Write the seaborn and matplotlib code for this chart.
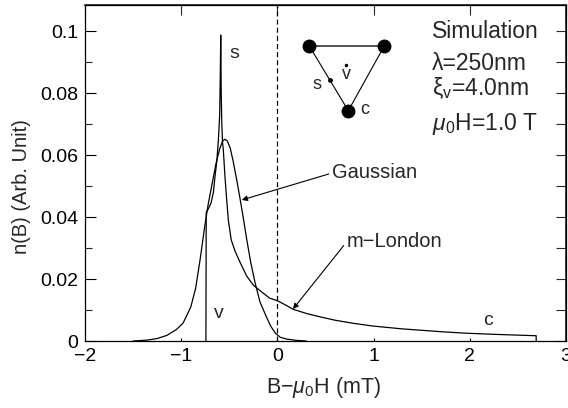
import numpy as np
import pandas as pd
import matplotlib
matplotlib.use("Agg")
import matplotlib.pyplot as plt
import seaborn as sns

# ---- data ----
gauss_x = [-1.5, -1.35, -1.25, -1.15, -1.05, -0.98, -0.9, -0.85, -0.8, -0.76, -0.72,
           -0.68, -0.64, -0.6, -0.57, -0.545, -0.52, -0.49, -0.46, -0.42, -0.39,
           -0.355, -0.32, -0.28, -0.23, -0.18, -0.12, -0.07, -0.02, 0.03, 0.1, 0.2, 0.3]
gauss_y = [0.0, 0.0003, 0.0008, 0.0018, 0.0037, 0.0058, 0.0110, 0.0170, 0.0270, 0.0360, 0.0440,
           0.0505, 0.0570, 0.0620, 0.0645, 0.0651, 0.0645, 0.0622, 0.0580, 0.0515, 0.0462,
           0.0398, 0.0330, 0.0258, 0.0185, 0.0125, 0.0082, 0.0048, 0.0025, 0.0012, 0.0006, 0.0002, 0.0]

london_x = [-0.743, -0.740, -0.72, -0.69, -0.665, -0.649, -0.63, -0.613, -0.600, -0.594,
            -0.589, -0.584, -0.578, -0.570, -0.562, -0.545, -0.527, -0.51, -0.48, -0.44,
            -0.39, -0.32, -0.25, -0.15, -0.08, 0.0, 0.08, 0.166, 0.3, 0.443, 0.6, 0.79,
            1.0, 1.135, 1.3, 1.48, 1.7, 1.97, 2.3, 2.69, 2.69]
london_y = [0.0, 0.0415, 0.0425, 0.0445, 0.0480, 0.0530, 0.0580, 0.0650, 0.0730, 0.0850,
            0.0987, 0.0800, 0.0700, 0.0640, 0.0616, 0.0530, 0.0455, 0.0390, 0.0326, 0.0290,
            0.0255, 0.0210, 0.0180, 0.0155, 0.0138, 0.0130, 0.0117, 0.0102, 0.0089, 0.0078, 0.0067, 0.0057,
            0.0048, 0.0044, 0.0039, 0.0035, 0.0030, 0.0025, 0.0021, 0.0017, 0.0]

x_ticks = [-2, -1, 0, 1, 2, 3]
x_tick_labels = ["\u22122", "\u22121", "0", "1", "2", "3"]
y_ticks = [0, 0.02, 0.04, 0.06, 0.08, 0.1]
y_tick_labels = ["0", "0.02", "0.04", "0.06", "0.08", "0.1"]
y_minor = [0.01, 0.03, 0.05, 0.07, 0.09]
y_right = [0, 0.01, 0.02, 0.03, 0.04, 0.05, 0.06, 0.07, 0.08, 0.09, 0.1]

sns.set_theme(style="ticks")
plt.rcParams["font.family"] = ["Liberation Sans", "DejaVu Sans"]
plt.rcParams["mathtext.fontset"] = "custom"
plt.rcParams["mathtext.rm"] = "Liberation Sans"
plt.rcParams["mathtext.it"] = "Liberation Sans:italic"
plt.rcParams["mathtext.bf"] = "Liberation Sans:bold"

fig = plt.figure(figsize=(5.68, 4.08), dpi=100)
ax = fig.add_axes([85/568, 1-341/408, 481/568, 336/408])

df_g = pd.DataFrame({"x": gauss_x, "y": gauss_y})
df_l = pd.DataFrame({"x": london_x, "y": london_y})
sns.lineplot(data=df_g, x="x", y="y", ax=ax, color="black", lw=0.9,
             sort=False, estimator=None)
sns.lineplot(data=df_l, x="x", y="y", ax=ax, color="black", lw=0.9,
             sort=False, estimator=None)
ax.axvline(0, color="black", lw=0.9, linestyle=(0, (4, 2.5)))

ax.set_xlim(-2, 3)
ax.set_ylim(0, 0.1084)
ax.set_xticks(x_ticks)
ax.set_xticklabels(x_tick_labels)
ax.set_yticks(y_ticks)
ax.set_yticklabels(y_tick_labels)
ax.set_yticks(y_minor, minor=True)
ax.tick_params(axis="x", which="major", direction="in", length=2.5, width=0.8,
               labelsize=14, pad=5, colors="black")
ax.tick_params(axis="y", which="major", direction="in", length=8, width=0.8,
               labelsize=14, pad=5, colors="black")
ax.tick_params(axis="y", which="minor", direction="in", length=5, width=0.8)
for s in ax.spines.values():
    s.set_linewidth(0.9)
    s.set_color("black")

secx = ax.secondary_xaxis("top")
secx.set_xticks(x_ticks)
secx.tick_params(direction="in", length=7, width=0.8, labeltop=False)
secy = ax.secondary_yaxis("right")
secy.set_yticks(y_right)
secy.tick_params(direction="in", length=7, width=0.8, labelright=False)

ax.set_xlabel(r"B$-\mu_{\mathrm{0}}$H (mT)", fontsize=15.5)
ax.set_ylabel("n(B) (Arb. Unit)", fontsize=14.5)
ax.xaxis.set_label_coords(0.495, -0.1)
ax.yaxis.set_label_coords(-0.112, 0.46)

# annotations
ax.text(-0.50, 0.0929, "s", fontsize=14, ha="left", va="center")
ax.text(-0.66, 0.009, "v", fontsize=14, ha="left", va="center")
ax.text(2.14, 0.0065, "c", fontsize=14, ha="left", va="center")
ax.annotate("Gaussian", xy=(-0.37, 0.0455), xytext=(0.568, 0.0542),
            fontsize=14.5, ha="left", va="center",
            arrowprops=dict(arrowstyle="-|>", lw=0.8, color="black",
                            mutation_scale=8, shrinkA=0, shrinkB=0,
                            relpos=(0, 0.5)))
ax.annotate("m\u2212London", xy=(0.162, 0.0103), xytext=(0.723, 0.0321),
            fontsize=14.5, ha="left", va="center",
            arrowprops=dict(arrowstyle="-|>", lw=0.8, color="black",
                            mutation_scale=8, shrinkA=0, shrinkB=0,
                            relpos=(0, 0.5)))

# parameter text (figure pixels -> fraction)
def fx(px):
    return px / 568
def fy(py):
    return 1 - py / 408
fs_par = 16.5
fig.text(fx(432), fy(38.3), "Simulation", fontsize=fs_par, va="baseline")
fig.text(fx(432), fy(70), "\u03bb=250nm", fontsize=fs_par, va="baseline")
fig.text(fx(432), fy(95), "\u03be$_{\\mathrm{v}}$=4.0nm", fontsize=fs_par, va="baseline")
fig.text(fx(432), fy(130), r"$\mu_{\mathrm{0}}$H=1.0 T", fontsize=fs_par, va="baseline")

# inset triangle (axes fractions)
tri_x = [0.4663, 0.6222, 0.5474]
tri_y = [0.878, 0.878, 0.6854]
ax.plot([tri_x[0], tri_x[1]], [tri_y[0], tri_y[1]], color="#444444", lw=1.3,
        transform=ax.transAxes)
ax.plot([tri_x[1], tri_x[2], tri_x[0]], [tri_y[1], tri_y[2], tri_y[0]], color="black",
        lw=0.8, transform=ax.transAxes)
ax.plot(tri_x, tri_y, "o", color="black", ms=9, transform=ax.transAxes)
t = 0.52
ax.plot([tri_x[0] + t*(tri_x[2]-tri_x[0])], [tri_y[0] + t*(tri_y[2]-tri_y[0])], "o",
        color="black", ms=2.5, transform=ax.transAxes)
ax.text(0.483, 0.762, "s", fontsize=13, ha="center", va="center", transform=ax.transAxes)
ax.text(0.544, 0.792, "v", fontsize=13, ha="center", va="center", transform=ax.transAxes)
ax.plot([0.542], [0.822], "o", color="black", ms=1.5, transform=ax.transAxes)
ax.text(0.582, 0.690, "c", fontsize=13, ha="center", va="center", transform=ax.transAxes)

fig.savefig("out.png", dpi=100)
